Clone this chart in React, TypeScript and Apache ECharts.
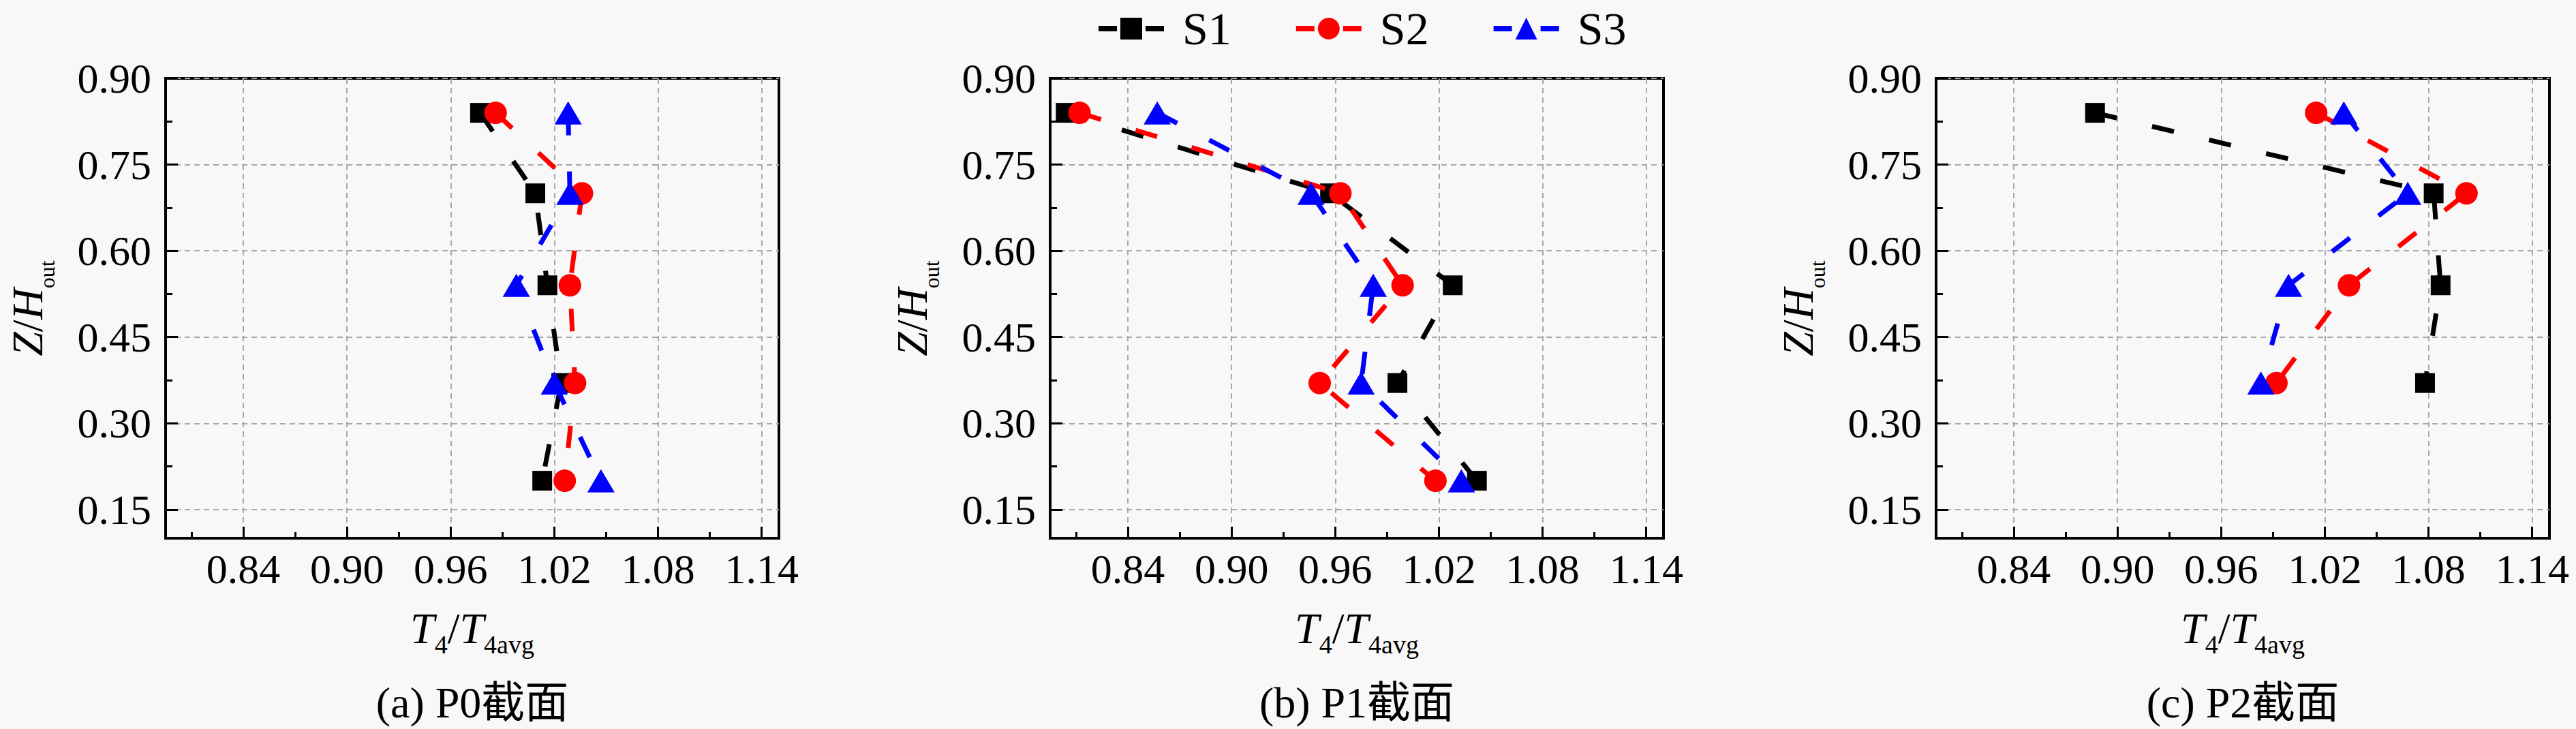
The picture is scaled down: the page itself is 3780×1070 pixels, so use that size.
import { useEffect, useRef } from "react";
import * as echarts from "echarts";

// Z/H_out levels (top to bottom)
const zLevels = [0.84, 0.7, 0.54, 0.37, 0.2];
const zLevelsP2 = [0.84, 0.7, 0.54, 0.37];

// T4/T4avg values
const p0S1 = [0.977, 1.009, 1.016, 1.024, 1.013];
const p0S2 = [0.986, 1.036, 1.029, 1.032, 1.026];
const p0S3 = [1.028, 1.029, 0.998, 1.02, 1.047];

const p1S1 = [0.804, 0.957, 1.028, 0.996, 1.042];
const p1S2 = [0.812, 0.963, 0.999, 0.951, 1.018];
const p1S3 = [0.857, 0.946, 0.982, 0.975, 1.033];

const p2S1 = [0.887, 1.083, 1.087, 1.078];
const p2S2 = [1.015, 1.102, 1.034, 0.992];
const p2S3 = [1.031, 1.068, 0.999, 0.983];

const xMajor = [0.84, 0.9, 0.96, 1.02, 1.08, 1.14];
const xMinor = [0.81, 0.87, 0.93, 0.99, 1.05, 1.11];
const yMajor = [0.15, 0.3, 0.45, 0.6, 0.75, 0.9];
const yMinor = [0.225, 0.375, 0.525, 0.675, 0.825];

const seriesNames = ["S1", "S2", "S3"];
const captions = ["(a) P0截面", "(b) P1截面", "(c) P2截面"];

const FONT = "Liberation Serif, serif";
const CJK_FONT = "Liberation Serif, Noto Sans CJK SC, serif";

const panels = [
  { z: zLevels, s: [p0S1, p0S2, p0S3] },
  { z: zLevels, s: [p1S1, p1S2, p1S3] },
  { z: zLevelsP2, s: [p2S1, p2S2, p2S3] },
];

const gridLefts = [243, 1541, 2841];
const GRID_W = 900;
const GRID_TOP = 115;
const GRID_H = 675;

const colors = ["#000000", "#ff0000", "#0000ff"];
const symbols = ["rect", "circle", "triangle"];
const symbolSizes: any[] = [29, 33, [40, 34]];

function App() {
  const chartRef = useRef<HTMLDivElement>(null);

  useEffect(() => {
    document.body.style.margin = "0";
    document.body.style.background = "#f8f8f8";
    const chart = echarts.init(chartRef.current, null, { renderer: "svg" });

    const grids: any[] = [];
    const xAxes: any[] = [];
    const yAxes: any[] = [];
    const series: any[] = [];
    const graphics: any[] = [];

    // subscript: pushed down by top padding inside a top-aligned line
    const nameRich = (subSize: number, subPad: number) => ({
      i: {
        fontFamily: FONT,
        fontSize: 64,
        fontStyle: "italic",
        color: "#000",
        verticalAlign: "top",
        lineHeight: 64,
      },
      r: {
        fontFamily: FONT,
        fontSize: 64,
        color: "#000",
        verticalAlign: "top",
        lineHeight: 64,
      },
      s: {
        fontFamily: FONT,
        fontSize: subSize,
        color: "#000",
        verticalAlign: "top",
        padding: [subPad, 0, 0, 0],
      },
    });

    const tickLabel = (values: number[], margin: number) => ({
      customValues: values,
      fontFamily: FONT,
      fontSize: 62,
      color: "#000",
      margin,
      formatter: (v: number) => v.toFixed(2),
    });

    panels.forEach((p, gi) => {
      grids.push({
        left: gridLefts[gi],
        top: GRID_TOP,
        width: GRID_W,
        height: GRID_H,
        show: true,
        borderColor: "#000",
        borderWidth: 4,
        backgroundColor: "transparent",
      });
      const xMain = xAxes.length;
      xAxes.push({
        type: "value",
        gridIndex: gi,
        position: "bottom",
        min: 0.795,
        max: 1.15,
        name: "{i|T}{s|4}{r|/}{i|T}{s|4avg}",
        nameLocation: "middle",
        nameGap: 100,
        nameTextStyle: { rich: nameRich(38, 37) },
        axisLine: { onZero: false, lineStyle: { color: "#000", width: 4 } },
        axisTick: {
          inside: true,
          length: 17,
          customValues: xMajor,
          lineStyle: { color: "#000", width: 3 },
        },
        axisLabel: tickLabel(xMajor, 14),
        splitLine: {
          show: true,
          lineStyle: { color: "#a8a8a8", width: 2, type: [8, 6] },
        },
      });
      xAxes.push({
        type: "value",
        gridIndex: gi,
        position: "bottom",
        min: 0.795,
        max: 1.15,
        axisLine: { show: false, onZero: false },
        axisTick: {
          inside: true,
          length: 9,
          customValues: xMinor,
          lineStyle: { color: "#000", width: 3 },
        },
        axisLabel: { show: false },
        splitLine: { show: false },
      });
      const yMain = yAxes.length;
      yAxes.push({
        type: "value",
        gridIndex: gi,
        position: "left",
        min: 0.1,
        max: 0.9,
        name: "{i|Z}{r|/}{i|H}{s|out}",
        nameLocation: "middle",
        nameGap: 158,
        nameTextStyle: { rich: nameRich(32, 45) },
        axisLine: { onZero: false, lineStyle: { color: "#000", width: 4 } },
        axisTick: {
          inside: true,
          length: 18,
          customValues: yMajor,
          lineStyle: { color: "#000", width: 3 },
        },
        axisLabel: tickLabel(yMajor, 21),
        splitLine: {
          show: true,
          lineStyle: { color: "#a8a8a8", width: 2, type: [8, 6] },
        },
      });
      yAxes.push({
        type: "value",
        gridIndex: gi,
        position: "left",
        min: 0.1,
        max: 0.9,
        axisLine: { show: false, onZero: false },
        axisTick: {
          inside: true,
          length: 10,
          customValues: yMinor,
          lineStyle: { color: "#000", width: 3 },
        },
        axisLabel: { show: false },
        splitLine: { show: false },
      });

      p.s.forEach((vals, si) => {
        series.push({
          name: seriesNames[si],
          type: "line",
          xAxisIndex: xMain,
          yAxisIndex: yMain,
          data: vals.map((v, k) => [v, p.z[k]]),
          symbol: symbols[si],
          symbolSize: symbolSizes[si],
          itemStyle: { color: colors[si] },
          lineStyle: { color: colors[si], width: 7, type: [33, 53] },
          z: 2 + si,
        });
      });

      graphics.push({
        type: "text",
        x: gridLefts[gi] + GRID_W / 2,
        y: 1031,
        style: {
          text: captions[gi],
          fontFamily: CJK_FONT,
          fontSize: 64,
          fill: "#000",
          align: "center",
          verticalAlign: "middle",
        },
      });
    });

    chart.setOption({
      animation: false,
      backgroundColor: "#f8f8f8",
      textStyle: { fontFamily: FONT, color: "#000" },
      legend: {
        data: seriesNames,
        left: 1603,
        top: 3,
        itemWidth: 96,
        itemHeight: 40,
        itemGap: 91,
        selectedMode: false,
        lineStyle: { type: [27, 42], width: 8 },
        textStyle: {
          fontFamily: FONT,
          fontSize: 68,
          color: "#000",
          padding: [0, 0, 0, 22],
        },
      },
      grid: grids,
      xAxis: xAxes,
      yAxis: yAxes,
      series,
      graphic: graphics,
    });

    return () => {
      chart.dispose();
    };
  }, []);

  return <div ref={chartRef} style={{ width: "3780px", height: "1070px" }}></div>;
}

export default App;
